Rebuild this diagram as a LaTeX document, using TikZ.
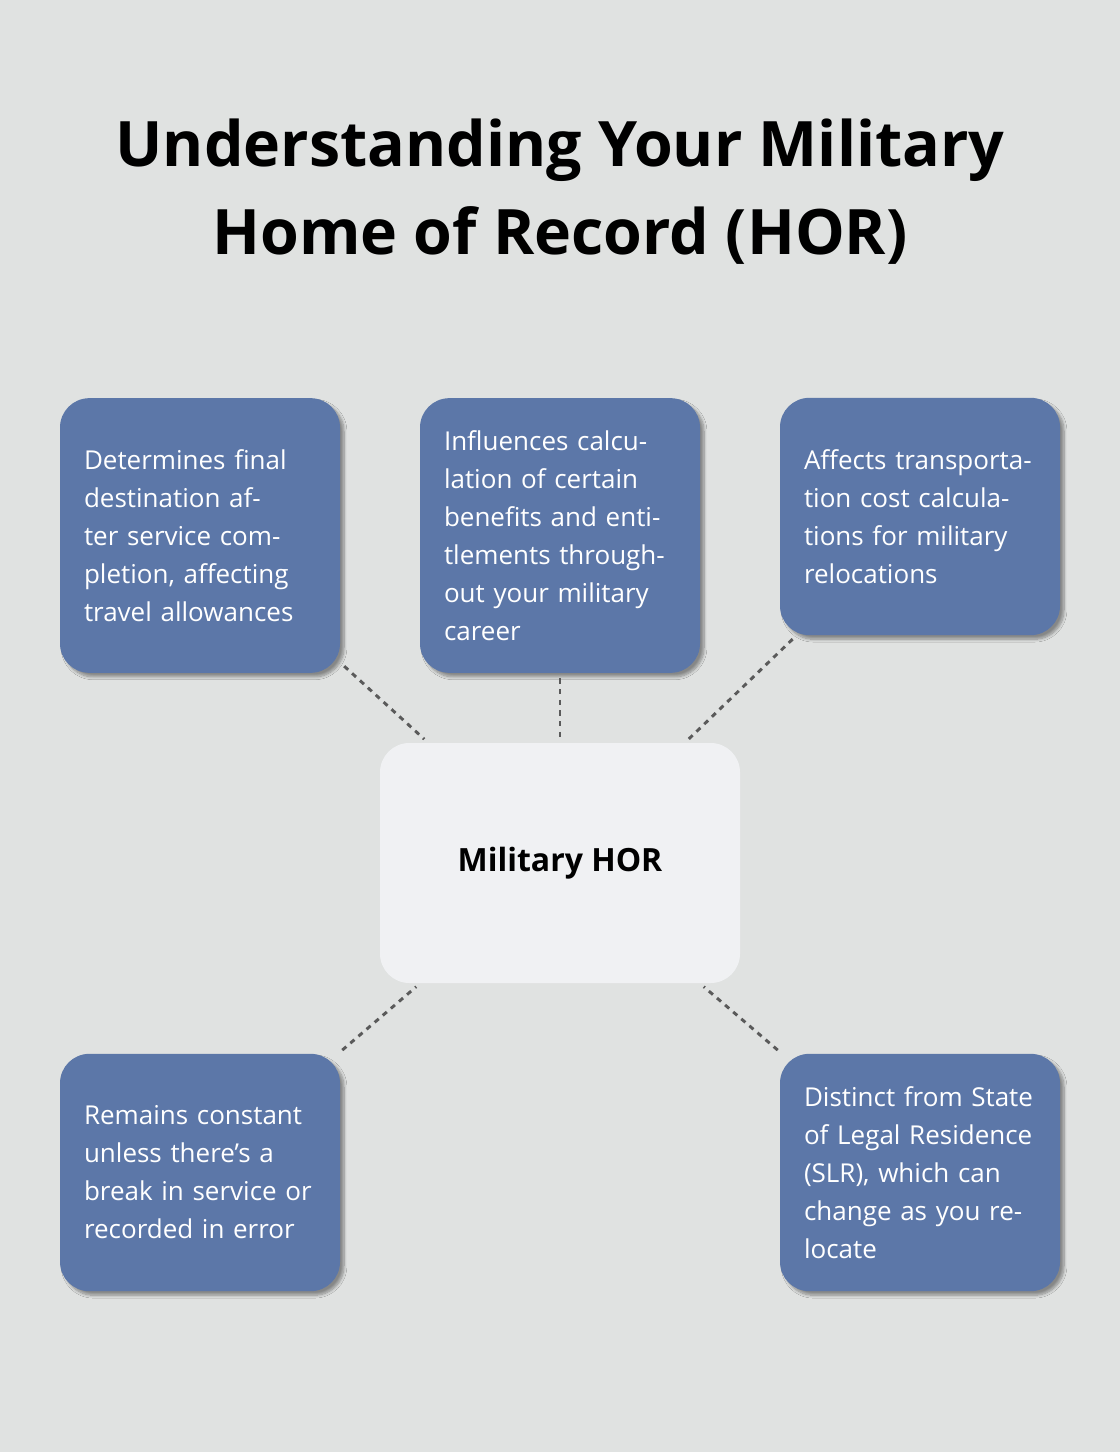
\documentclass[tikz,border=0pt]{standalone}
\usepackage{fontspec}
\setmainfont{Open Sans}
\usetikzlibrary{positioning,shadows.blur}
\definecolor{bgcol}{HTML}{E0E2E1}
\definecolor{boxcol}{HTML}{5C77A8}
\definecolor{hubcol}{HTML}{F0F1F3}
\definecolor{linkcol}{HTML}{5A5A5A}
\tikzset{
  factbox/.style={rectangle,rounded corners=22pt,fill=boxcol,text=white,
    text width=174pt,inner xsep=18pt,align=left,minimum width=210pt,
    font=\fontsize{19.5}{28.5}\selectfont,blur shadow={shadow blur steps=8,shadow xshift=3pt,shadow yshift=-3pt}},
  hubbox/.style={rectangle,rounded corners=22pt,fill=hubcol,minimum width=270pt,
    minimum height=180pt,font=\bfseries\fontsize{24}{30}\selectfont},
  link/.style={draw=linkcol,line width=2.2pt,dash pattern=on 4pt off 4pt,shorten >=4pt,shorten <=4pt}
}
\begin{document}
\begin{tikzpicture}[x=0.75pt,y=-0.75pt]
\fill[bgcol] (0,0) rectangle (1120,1452);
\node[font=\bfseries\fontsize{47}{66}\selectfont,align=center] (title) at (560,192)
  {Understanding Your Military\\Home of Record (HOR)};

\node[hubbox] (hub) at (560,863) {Military HOR};

\node[factbox,minimum height=206pt] (tl) at (200,535.5) {Determines final destination after service completion, affecting travel allowances};
\node[factbox,minimum height=206pt] (tm) at (560,535.5) {Influences calculation of certain benefits and entitlements throughout your military career};
\node[factbox,minimum height=178pt] (tr) at (920,516.5) {Affects transportation cost calculations for military relocations};
\node[factbox,minimum height=178pt] (bl) at (200,1172.5) {Remains constant unless there's a break in service or recorded in error};
\node[factbox,minimum height=178pt] (br) at (920,1172.5) {Distinct from State of Legal Residence (SLR), which can change as you relocate};

\draw[link] (tl) -- (hub);
\draw[link] (tm) -- (hub);
\draw[link] (tr) -- (hub);
\draw[link] (bl) -- (hub);
\draw[link] (br) -- (hub);
\end{tikzpicture}
\end{document}
